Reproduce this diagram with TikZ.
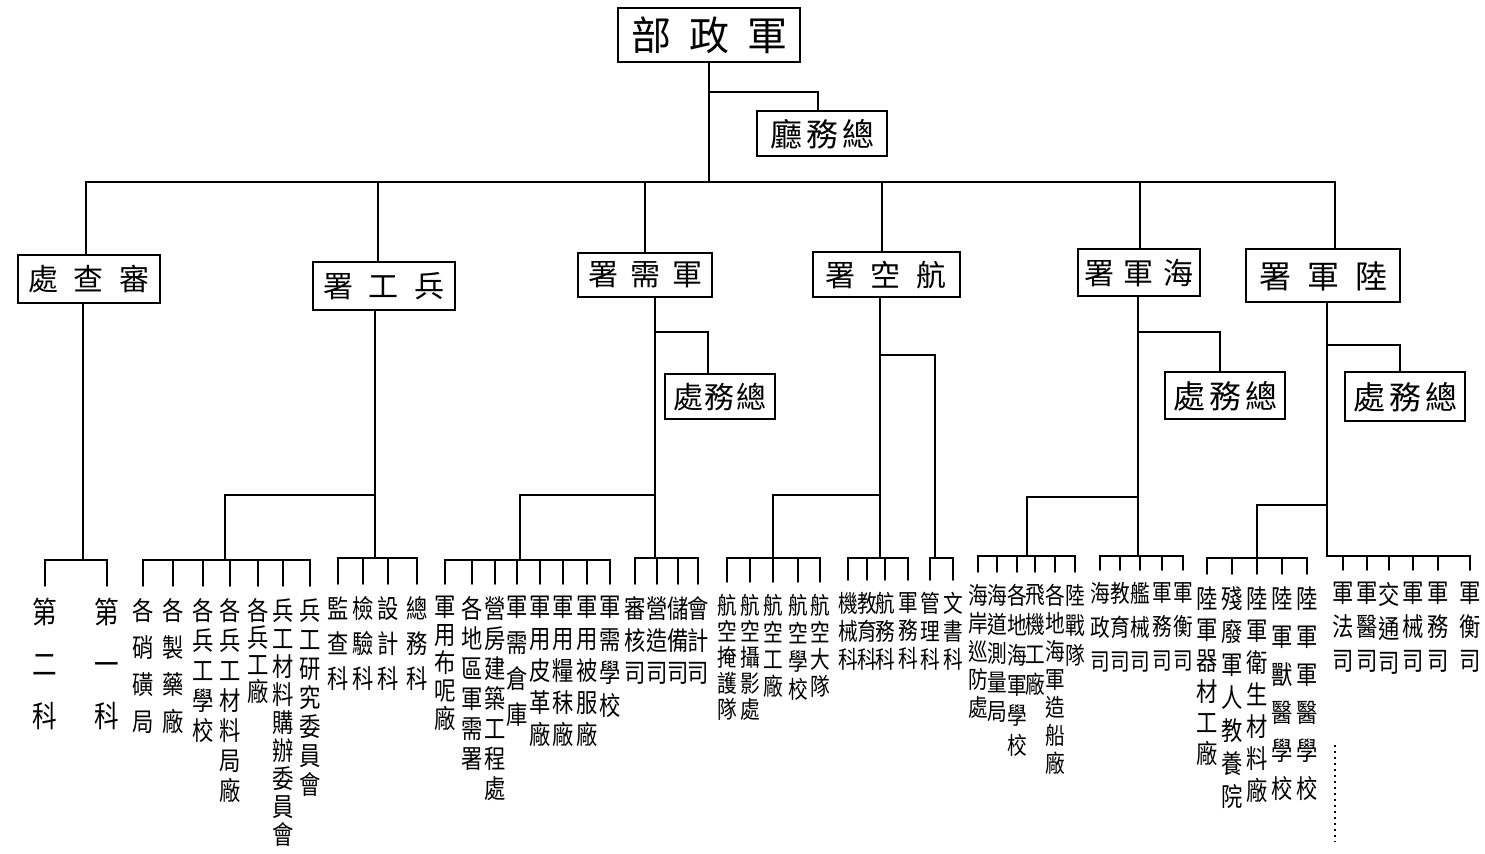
\documentclass[tikz,border=0pt]{standalone}
\usepackage{fontspec}
\setmainfont{Noto Sans CJK TC}
\newfontfamily\narrowcjk[FakeStretch=0.82]{Noto Sans CJK TC}
\tikzset{
  ln/.style={line width=1pt, line cap=round},
  bx/.style={draw, line width=1pt, inner sep=0pt},
  vt/.style={anchor=north, align=center, inner xsep=0pt, inner ysep=6pt,
     font=\narrowcjk\fontsize{13}{#1}\selectfont},
  vt/.default=15,
  vs/.style={anchor=north, align=center, inner xsep=0pt, inner ysep=6pt,
     font=\narrowcjk\fontsize{12}{#1}\selectfont},
  vs/.default=14
}
\begin{document}
\begin{tikzpicture}[x=0.5pt,y=-0.5pt]
\useasboundingbox (0,0) rectangle (1485,854);
% ---------- boxes ----------
\node[bx, minimum width=91pt, minimum height=27pt, font=\fontsize{20}{20}\selectfont] (jz) at (709,35) {部\hspace{9pt}政\hspace{9pt}軍};
\node[bx, minimum width=65pt, minimum height=22.5pt, font=\fontsize{16}{16}\selectfont] (zwt) at (822,134) {廳\hspace{2pt}務\hspace{2pt}總};
\node[bx, minimum width=71pt, minimum height=24pt, font=\fontsize{15}{15}\selectfont] (scc) at (89,279) {處\hspace{8pt}查\hspace{8pt}審};
\node[bx, minimum width=71pt, minimum height=24pt, font=\fontsize{15}{15}\selectfont] (bgs) at (384,286) {署\hspace{8pt}工\hspace{8pt}兵};
\node[bx, minimum width=67pt, minimum height=22pt, font=\fontsize{15}{15}\selectfont] (jxs) at (645,275) {署\hspace{6pt}需\hspace{6pt}軍};
\node[bx, minimum width=73.5pt, minimum height=22.5pt, font=\fontsize{15}{15}\selectfont] (hks) at (886,275) {署\hspace{8pt}空\hspace{8pt}航};
\node[bx, minimum width=61pt, minimum height=23.5pt, font=\fontsize{15}{15}\selectfont] (hjs) at (1139,273) {署\hspace{5pt}軍\hspace{5pt}海};
\node[bx, minimum width=77pt, minimum height=26.5pt, font=\fontsize{16}{16}\selectfont] (ljs) at (1323,276) {署\hspace{8pt}軍\hspace{8pt}陸};
\node[bx, minimum width=55pt, minimum height=22.5pt, font=\fontsize{15}{15}\selectfont] (zws1) at (720,397) {處\hspace{1pt}務\hspace{1pt}總};
\node[bx, minimum width=60pt, minimum height=23.5pt, font=\fontsize{16}{16}\selectfont] (zws2) at (1225,396) {處\hspace{2pt}務\hspace{2pt}總};
\node[bx, minimum width=60pt, minimum height=24.5pt, font=\fontsize{16}{16}\selectfont] (zws3) at (1405,397) {處\hspace{2pt}務\hspace{2pt}總};

% ---------- top connectors ----------
\coordinate (bus) at (709,182);
\coordinate (k1) at (709,92);
\coordinate (k2) at (818,92);
\draw[ln] (jz.south) -- (bus);
\draw[ln] (k1) -- (k2) -- (k2 |- zwt.north);
\coordinate (d1) at (86,182);
\coordinate (d2) at (378,182);
\coordinate (d3) at (645,182);
\coordinate (d4) at (882,182);
\coordinate (d5) at (1140,182);
\coordinate (d6) at (1335,182);
\draw[ln] (d1) -- (d6);
\draw[ln] (d1) -- (d1 |- scc.north);
\draw[ln] (d2) -- (d2 |- bgs.north);
\draw[ln] (d3) -- (d3 |- jxs.north);
\draw[ln] (d4) -- (d4 |- hks.north);
\draw[ln] (d5) -- (d5 |- hjs.north);
\draw[ln] (d6) -- (d6 |- ljs.north);

% ---------- 審查處 ----------
\coordinate (s1) at (83,560);
\draw[ln] (s1 |- scc.south) -- (s1);
\node[vt=26, font=\narrowcjk\fontsize{15}{26}\selectfont] (c01) at (45,586) {第\\二\\科};
\node[vt=26, font=\narrowcjk\fontsize{15}{26}\selectfont] (c02) at (107,586) {第\\一\\科};
\foreach \c in {c01,c02} \draw[ln] (s1) -| (\c.north);

% ---------- 兵工署 ----------
\coordinate (g0) at (375,495);
\coordinate (g1) at (225,560);
\coordinate (g2) at (375,558);
\draw[ln] (g0 |- bgs.south) -- (g2);
\draw[ln] (g0) -| (g1);
\node[vt=18.5] (b01) at (143,586) {各\\硝\\磺\\局};
\node[vt=18.5] (b02) at (173,586) {各\\製\\藥\\廠};
\node[vt=15] (b03) at (203,586) {各\\兵\\工\\學\\校};
\node[vt=15] (b04) at (230,586) {各\\兵\\工\\材\\料\\局\\廠};
\node[vt=13.5] (b05) at (258,586) {各\\兵\\工\\廠};
\node[vt=14] (b06) at (283,586) {兵\\工\\材\\料\\購\\辦\\委\\員\\會};
\node[vt=14.5] (b07) at (310,586) {兵\\工\\研\\究\\委\\員\\會};
\foreach \c in {b01,b02,b03,b04,b05,b06,b07} \draw[ln] (g1) -| (\c.north);
\node[vt=17.5] (b08) at (338,584) {監\\查\\科};
\node[vt=17.5] (b09) at (363,584) {檢\\驗\\科};
\node[vt=17.5] (b10) at (388,584) {設\\計\\科};
\node[vt=17.5] (b11) at (417,584) {總\\務\\科};
\foreach \c in {b08,b09,b10,b11} \draw[ln] (g2) -| (\c.north);

% ---------- 軍需署 ----------
\coordinate (x0) at (655,495);
\coordinate (xa) at (655,332);
\coordinate (xb) at (708,332);
\coordinate (x1) at (520,560);
\coordinate (x2) at (655,558);
\draw[ln] (x0 |- jxs.south) -- (x2);
\draw[ln] (xa) -- (xb) -- (xb |- zws1.north);
\draw[ln] (x0) -| (x1);
\node[vt=14] (x01) at (445,584) {軍\\用\\布\\呢\\廠};
\node[vt=15] (x02) at (472,584) {各\\地\\區\\軍\\需\\署};
\node[vt=15] (x03) at (495,584) {營\\房\\建\\築\\工\\程\\處};
\node[vt=18] (x04) at (517,584) {軍\\需\\倉\\庫};
\node[vt=16] (x05) at (540,584) {軍\\用\\皮\\革\\廠};
\node[vt=16] (x06) at (563,584) {軍\\用\\糧\\秣\\廠};
\node[vt=16] (x07) at (587,584) {軍\\用\\被\\服\\廠};
\node[vt=16.5] (x08) at (610,584) {軍\\需\\學\\校};
\foreach \c in {x01,x02,x03,x04,x05,x06,x07,x08} \draw[ln] (x1) -| (\c.north);
\node[vt=16] (x09) at (635,584) {審\\核\\司};
\node[vt=16] (x10) at (657,584) {營\\造\\司};
\node[vt=16] (x11) at (678,584) {儲\\備\\司};
\node[vt=16] (x12) at (698,584) {會\\計\\司};
\foreach \c in {x09,x10,x11,x12} \draw[ln] (x2) -| (\c.north);

% ---------- 航空署 ----------
\coordinate (h0) at (880,495);
\coordinate (ha) at (880,355);
\coordinate (hb) at (935,355);
\coordinate (h1) at (773,558);
\coordinate (h2) at (880,558);
\coordinate (h3) at (935,558);
\draw[ln] (h0 |- hks.south) -- (h2);
\draw[ln] (ha) -- (hb) -- (h3);
\draw[ln] (h0) -| (h1);
\node[vs=13] (h01) at (727,582) {航\\空\\掩\\護\\隊};
\node[vs=13] (h02) at (750,582) {航\\空\\攝\\影\\處};
\node[vs=13.5] (h03) at (773,582) {航\\空\\工\\廠};
\node[vs=14] (h04) at (798,582) {航\\空\\學\\校};
\node[vs=13.5] (h05) at (820,582) {航\\空\\大\\隊};
\foreach \c in {h01,h02,h03,h04,h05} \draw[ln] (h1) -| (\c.north);
\node[vs=14] (h06) at (848,580) {機\\械\\科};
\node[vs=14] (h07) at (867,580) {教\\育\\科};
\node[vs=14] (h08) at (885,580) {航\\務\\科};
\node[vs=14] (h09) at (908,580) {軍\\務\\科};
\foreach \c in {h06,h07,h08,h09} \draw[ln] (h2) -| (\c.north);
\node[vs=14] (h10) at (930,580) {管\\理\\科};
\node[vs=14] (h11) at (953,580) {文\\書\\科};
\foreach \c in {h10,h11} \draw[ln] (h3) -| (\c.north);

% ---------- 海軍署 ----------
\coordinate (n0) at (1138,497);
\coordinate (na) at (1138,332);
\coordinate (nb) at (1220,332);
\coordinate (n1) at (1027,556);
\coordinate (n2) at (1138,556);
\draw[ln] (n0 |- hjs.south) -- (n2);
\draw[ln] (na) -- (nb) -- (nb |- zws2.north);
\draw[ln] (n0) -| (n1);
\node[vs=14] (n01) at (978,572) {海\\岸\\巡\\防\\處};
\node[vs=14.5] (n02) at (997,572) {海\\道\\測\\量\\局};
\node[vs=15] (n03) at (1017,572) {各\\地\\海\\軍\\學\\校};
\node[vs=15] (n04) at (1035,572) {飛\\機\\工\\廠};
\node[vs=14] (n05) at (1055,572) {各\\地\\海\\軍\\造\\船\\廠};
\node[vs=15] (n06) at (1075,572) {陸\\戰\\隊};
\foreach \c in {n01,n02,n03,n04,n05,n06} \draw[ln] (n1) -| (\c.north);
\node[vs=17] (n07) at (1100,570) {海\\政\\司};
\node[vs=17] (n08) at (1120,570) {教\\育\\司};
\node[vs=17] (n09) at (1140,570) {艦\\械\\司};
\node[vs=17] (n10) at (1162,570) {軍\\務\\司};
\node[vs=17] (n11) at (1183,570) {軍\\衡\\司};
\foreach \c in {n07,n08,n09,n10,n11} \draw[ln] (n2) -| (\c.north);

% ---------- 陸軍署 ----------
\coordinate (l0) at (1327,505);
\coordinate (la) at (1327,345);
\coordinate (lb) at (1400,345);
\coordinate (l1) at (1257,558);
\coordinate (l2) at (1327,556);
\draw[ln] (l0 |- ljs.south) -- (l2);
\draw[ln] (la) -- (lb) -- (lb |- zws3.north);
\draw[ln] (l0) -| (l1);
\node[vt=15.5] (l01) at (1207,574) {陸\\軍\\器\\材\\工\\廠};
\node[vt=16.5] (l02) at (1232,574) {殘\\廢\\軍\\人\\教\\養\\院};
\node[vt=16] (l03) at (1257,574) {陸\\軍\\衛\\生\\材\\料\\廠};
\node[vt=19] (l04) at (1282,574) {陸\\軍\\獸\\醫\\學\\校};
\node[vt=19] (l05) at (1307,574) {陸\\軍\\軍\\醫\\學\\校};
\foreach \c in {l01,l02,l03,l04,l05} \draw[ln] (l1) -| (\c.north);
\node[vt=17] (l06) at (1343,570) {軍\\法\\司};
\node[vt=17] (l07) at (1367,570) {軍\\醫\\司};
\node[vt=17] (l08) at (1389,570) {交\\通\\司};
\node[vt=17] (l09) at (1413,570) {軍\\械\\司};
\node[vt=17] (l10) at (1438,570) {軍\\務\\司};
\node[vt=17] (l11) at (1470,570) {軍\\衡\\司};
\foreach \c in {l06,l07,l08,l09,l10,l11} \draw[ln] (l2) -| (\c.north);
\coordinate (e1) at (1335,745);
\coordinate (e2) at (1335,842);
\draw[line width=1pt, dotted] (e1) -- (e2);
\end{tikzpicture}
\end{document}
